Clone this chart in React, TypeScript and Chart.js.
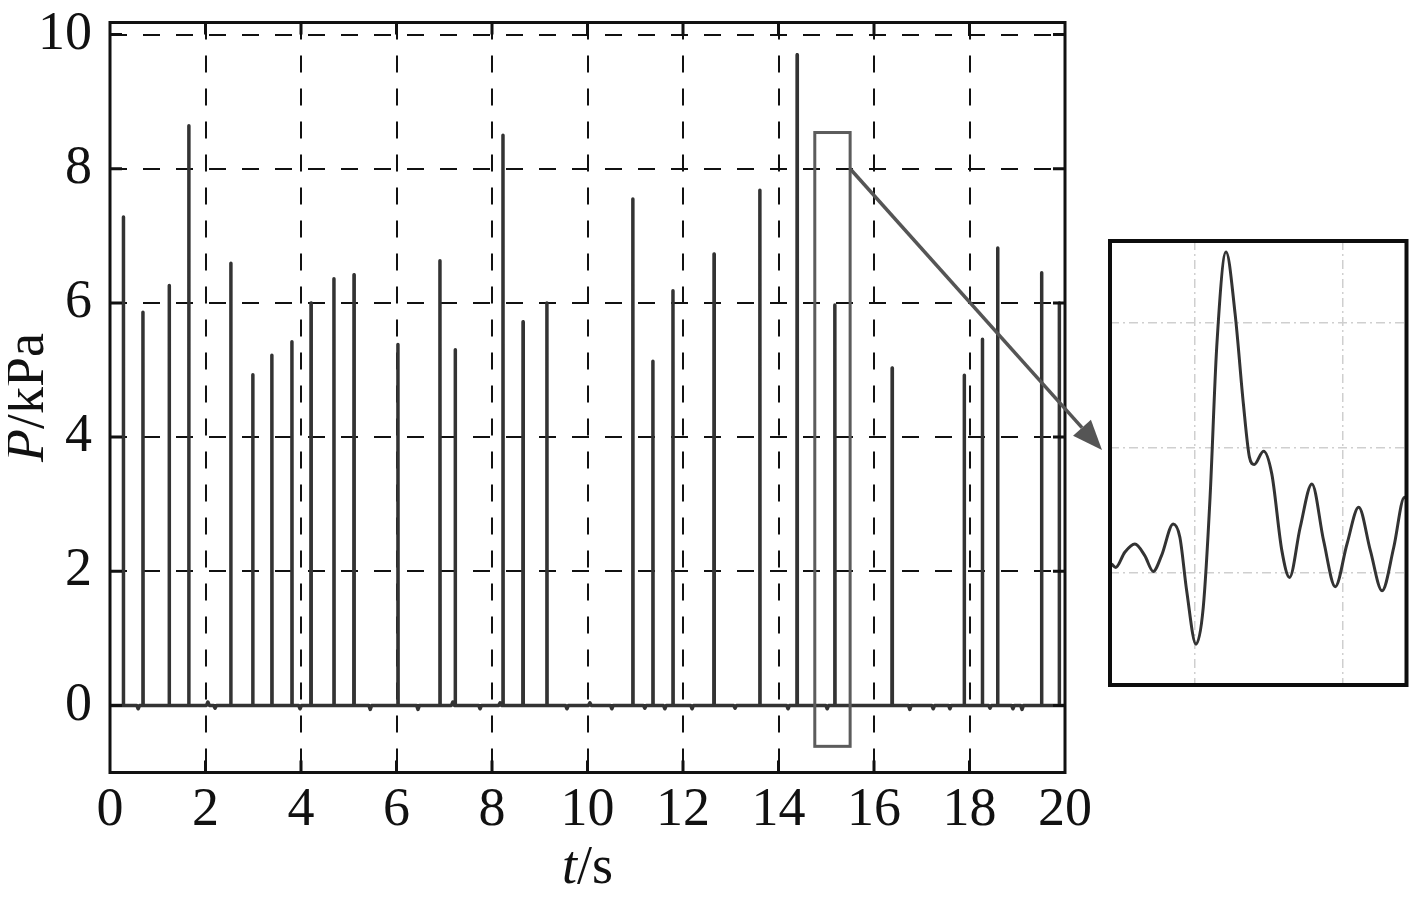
import React, { useEffect, useRef } from 'react';
import { Chart, registerables } from 'chart.js';

Chart.register(...registerables);

// ---- data ----
const spikeTimes = [0.28, 0.69, 1.24, 1.65, 2.53, 2.99, 3.39, 3.81, 4.21, 4.69, 5.11, 6.03, 6.91, 7.23, 8.23, 8.65, 9.15, 10.95, 11.37, 11.79, 12.65, 13.61, 14.39, 15.18, 16.38, 17.89, 18.27, 18.59, 19.51, 19.88];
const spikeHeights = [7.28, 5.86, 6.26, 8.64, 6.59, 4.93, 5.22, 5.42, 6.0, 6.36, 6.42, 5.38, 6.63, 5.3, 8.5, 5.72, 6.0, 7.55, 5.13, 6.18, 6.73, 7.68, 9.7, 5.97, 5.03, 4.92, 5.46, 6.82, 6.45, 6.0];
const noiseTimes = [0.59, 2.05, 2.2, 3.98, 5.45, 6.45, 7.18, 7.75, 8.17, 9.57, 10.05, 10.51, 11.2, 11.62, 12.19, 13.09, 14.2, 15.02, 16.75, 17.24, 17.59, 18.43, 18.91, 19.1];
const noiseValues = [-0.05, 0.05, -0.04, -0.05, -0.06, -0.06, 0.05, -0.05, 0.04, -0.05, 0.04, -0.05, -0.04, -0.05, -0.05, -0.04, -0.05, -0.05, -0.06, -0.05, -0.05, -0.04, -0.05, -0.06];
const xTicks = [0, 2, 4, 6, 8, 10, 12, 14, 16, 18, 20];
const yTicks = [0, 2, 4, 6, 8, 10];
const zoomBoxT = [14.76, 15.5];
const zoomBoxP = [-0.61, 8.54];
const arrowStartP = 8.0;

// inset waveform (grid units)
const insetT = [-0.564, -0.535, -0.474, -0.406, -0.339, -0.282, -0.226, -0.147, -0.102, -0.056, 0.007, 0.056, 0.102, 0.147, 0.21, 0.271, 0.327, 0.368, 0.4, 0.463, 0.519, 0.587, 0.639, 0.711, 0.79, 0.869, 0.948, 1.027, 1.106, 1.185, 1.264, 1.343, 1.415, 1.467];
const insetP = [0.072, 0.045, 0.166, 0.232, 0.139, 0.013, 0.139, 0.393, 0.286, -0.142, -0.569, -0.275, 0.606, 1.808, 2.569, 2.075, 1.354, 0.927, 0.868, 0.975, 0.793, 0.179, -0.035, 0.366, 0.713, 0.259, -0.109, 0.232, 0.526, 0.179, -0.142, 0.206, 0.606, 0.419];
const insetGridT = [0, 1];
const insetGridP = [0, 1, 2];

// ---- layout ----
const W = 1401;
const H = 880;
const INSET_LEFT = 1096;
const INSET_TOP = 227;
const INSET_W = 305;
const INSET_H = 456;
const INSET_PAD = 6;
const FONT = 'Liberation Serif';
const FONT_SIZE = 54;

function buildSeries() {
  const pts: { x: number; y: number }[] = [{ x: 0, y: 0 }, { x: 20, y: 0 }];
  spikeTimes.forEach((t, i) => {
    pts.push({ x: t - 0.004, y: 0 }, { x: t, y: spikeHeights[i] }, { x: t + 0.004, y: 0 });
  });
  noiseTimes.forEach((t, i) => {
    pts.push({ x: t - 0.03, y: 0 }, { x: t, y: noiseValues[i] }, { x: t + 0.03, y: 0 });
  });
  pts.sort((a, b) => a.x - b.x);
  return pts;
}

function drawMixed(ctx: CanvasRenderingContext2D, italic: string, normal: string, cx: number, baseY: number) {
  ctx.font = `italic ${FONT_SIZE}px ${FONT}`;
  const w1 = ctx.measureText(italic).width;
  ctx.font = `${FONT_SIZE}px ${FONT}`;
  const w2 = ctx.measureText(normal).width;
  const start = cx - (w1 + w2) / 2;
  ctx.textAlign = 'left';
  ctx.textBaseline = 'alphabetic';
  ctx.font = `italic ${FONT_SIZE}px ${FONT}`;
  ctx.fillText(italic, start, baseY);
  ctx.font = `${FONT_SIZE}px ${FONT}`;
  ctx.fillText(normal, start + w1, baseY);
}

export default function App() {
  const mainRef = useRef<HTMLCanvasElement>(null);
  const insetRef = useRef<HTMLCanvasElement>(null);

  useEffect(() => {
    if (!mainRef.current || !insetRef.current) return;

    const insetFrame = {
      id: 'insetFrame',
      afterDraw(chart: any) {
        const { ctx, chartArea: a } = chart;
        ctx.save();
        ctx.strokeStyle = '#0d0d0d';
        ctx.lineWidth = 4;
        ctx.strokeRect(a.left, a.top, a.right - a.left, a.bottom - a.top);
        ctx.restore();
      },
    };

    const inset = new Chart(insetRef.current, {
      type: 'line',
      data: {
        datasets: [
          {
            data: insetT.map((t, i) => ({ x: t, y: insetP[i] })),
            borderColor: '#333',
            borderWidth: 3,
            pointRadius: 0,
            cubicInterpolationMode: 'monotone',
          },
        ],
      },
      options: {
        responsive: false,
        animation: false,
        events: [],
        layout: { padding: { left: INSET_PAD, top: INSET_PAD, right: 2.5, bottom: INSET_PAD } },
        plugins: { legend: { display: false }, tooltip: { enabled: false } },
        scales: {
          x: {
            type: 'linear',
            min: -0.574,
            max: 1.429,
            afterBuildTicks: (s: any) => { s.ticks = insetGridT.map((v) => ({ value: v })); },
            afterFit: (s: any) => { s.height = 0; s.paddingLeft = 0; s.paddingRight = 0; },
            ticks: { display: false },
            grid: { color: '#cfcfcf', lineWidth: 1.5, drawTicks: false },
            border: { display: false, dash: [9, 4, 2, 4] },
          },
          y: {
            type: 'linear',
            min: -0.896,
            max: 2.656,
            afterBuildTicks: (s: any) => { s.ticks = insetGridP.map((v) => ({ value: v })); },
            afterFit: (s: any) => { s.width = 0; s.paddingTop = 0; s.paddingBottom = 0; },
            ticks: { display: false },
            grid: { color: '#cfcfcf', lineWidth: 1.5, drawTicks: false },
            border: { display: false, dash: [9, 4, 2, 4] },
          },
        },
      },
      plugins: [insetFrame],
    } as any);

    const mainDecor = {
      id: 'mainDecor',
      afterDraw(chart: any) {
        const { ctx, chartArea: a, scales } = chart;
        const x = scales.x;
        const y = scales.y;
        ctx.save();
        // zoom box
        ctx.strokeStyle = '#5c5c5c';
        ctx.lineWidth = 3;
        const bx0 = x.getPixelForValue(zoomBoxT[0]);
        const bx1 = x.getPixelForValue(zoomBoxT[1]);
        const by0 = y.getPixelForValue(zoomBoxP[1]);
        const by1 = y.getPixelForValue(zoomBoxP[0]);
        ctx.strokeRect(bx0, by0, bx1 - bx0, by1 - by0);
        // frame
        ctx.strokeStyle = '#111';
        ctx.lineWidth = 3;
        ctx.strokeRect(a.left, a.top, a.right - a.left, a.bottom - a.top);
        // inward ticks
        const tl = 12;
        ctx.beginPath();
        xTicks.forEach((v) => {
          if (v === 0 || v === 20) return;
          const px = x.getPixelForValue(v);
          ctx.moveTo(px, a.bottom); ctx.lineTo(px, a.bottom - tl);
          ctx.moveTo(px, a.top); ctx.lineTo(px, a.top + tl);
        });
        yTicks.forEach((v) => {
          const py = y.getPixelForValue(v);
          ctx.moveTo(a.left, py); ctx.lineTo(a.left + tl, py);
          ctx.moveTo(a.right, py); ctx.lineTo(a.right - tl, py);
        });
        ctx.stroke();
        // arrow
        const sx = bx1;
        const sy = y.getPixelForValue(arrowStartP);
        const ex = INSET_LEFT - 2;
        const ey = INSET_TOP + inset.scales.y.getPixelForValue(1) + 2;
        const ang = Math.atan2(ey - sy, ex - sx);
        const hl = 30;
        const hw = 12;
        const bxh = ex - hl * Math.cos(ang);
        const byh = ey - hl * Math.sin(ang);
        ctx.strokeStyle = '#555';
        ctx.fillStyle = '#555';
        ctx.lineWidth = 3.5;
        ctx.beginPath();
        ctx.moveTo(sx, sy);
        ctx.lineTo(bxh, byh);
        ctx.stroke();
        ctx.beginPath();
        ctx.moveTo(ex, ey);
        ctx.lineTo(bxh + hw * Math.sin(ang), byh - hw * Math.cos(ang));
        ctx.lineTo(bxh - hw * Math.sin(ang), byh + hw * Math.cos(ang));
        ctx.closePath();
        ctx.fill();
        // axis titles
        ctx.fillStyle = '#111';
        drawMixed(ctx, 't', '/s', (a.left + a.right) / 2, 875);
        ctx.save();
        ctx.translate(35, (a.top + a.bottom) / 2);
        ctx.rotate(-Math.PI / 2);
        drawMixed(ctx, 'P', '/kPa', 0, 0);
        ctx.restore();
        ctx.restore();
      },
    };

    const main = new Chart(mainRef.current, {
      type: 'line',
      data: {
        datasets: [
          {
            data: buildSeries(),
            borderColor: '#333',
            borderWidth: 3.5,
            pointRadius: 0,
            tension: 0,
            borderJoinStyle: 'round',
          },
        ],
      },
      options: {
        responsive: false,
        animation: false,
        events: [],
        layout: { padding: { left: 0, top: 14.5, right: W - 1057, bottom: 0 } },
        plugins: { legend: { display: false }, tooltip: { enabled: false } },
        scales: {
          x: {
            type: 'linear',
            min: 0,
            max: 20,
            afterBuildTicks: (s: any) => { s.ticks = xTicks.map((v) => ({ value: v })); },
            afterFit: (s: any) => { s.height = H - 764.5; s.paddingLeft = 0; s.paddingRight = 0; },
            ticks: { color: '#111', font: { family: FONT, size: FONT_SIZE }, padding: 6, maxRotation: 0, autoSkip: false },
            grid: {
              color: (c: any) => (c.tick && (c.tick.value === 0 || c.tick.value === 20) ? 'rgba(0,0,0,0)' : '#111'),
              lineWidth: 2,
              drawTicks: false,
            },
            border: { display: false, dash: [17, 16] },
          },
          y: {
            type: 'linear',
            min: -1,
            max: 10.18,
            afterBuildTicks: (s: any) => { s.ticks = yTicks.map((v) => ({ value: v })); },
            afterFit: (s: any) => { s.width = 102; s.paddingTop = 0; s.paddingBottom = 0; },
            ticks: { color: '#111', font: { family: FONT, size: FONT_SIZE }, padding: 18 },
            grid: { color: '#111', lineWidth: 2, drawTicks: false },
            border: { display: false, dash: [17, 16] },
          },
        },
      },
      plugins: [mainDecor],
    } as any);

    return () => {
      main.destroy();
      inset.destroy();
    };
  }, []);

  return (
    <div style={{ position: 'relative', width: W, height: H, background: '#fff' }}>
      <canvas ref={mainRef} width={W} height={H} style={{ position: 'absolute', left: 0, top: 0 }} />
      <canvas
        ref={insetRef}
        width={INSET_W}
        height={INSET_H}
        style={{ position: 'absolute', left: INSET_LEFT, top: INSET_TOP }}
      />
    </div>
  );
}
